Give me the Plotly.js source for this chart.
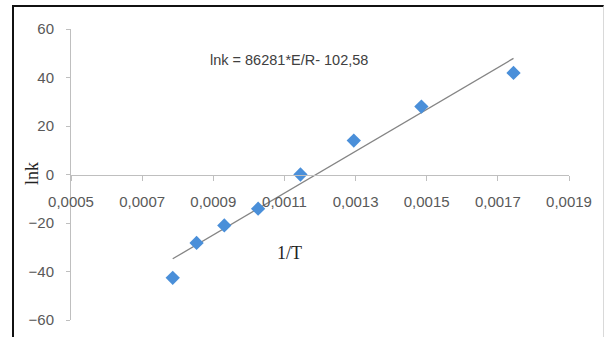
<!DOCTYPE html>
<html>
<head>
<meta charset="utf-8">
<script src="https://cdn.plot.ly/plotly-3.0.1.min.js"></script>
<style>
  html, body { margin: 0; padding: 0; background: #ffffff; }
  #wrap { position: relative; width: 606px; height: 337px; overflow: hidden; }
  #chart { position: absolute; left: 0; top: 0; width: 606px; height: 337px; }
  #frame { position: absolute; left: 12px; top: 5px; width: 589px; height: 340px;
           border-left: 2px solid #111; border-top: 2px solid #111; border-right: 1px solid #d9d9d9;
           pointer-events: none; }
</style>
</head>
<body>
<div id="wrap">
  <div id="chart"></div>
  <div id="frame"></div>
</div>
<script>
// Data
const invT = [0.000786, 0.000853, 0.000931, 0.001026, 0.001145, 0.001295, 0.001485, 0.001744];
const lnk  = [-42.6, -28.2, -21.0, -14.1, 0.0, 14.0, 28.0, 41.9];

// Trend line from the equation printed on the chart
const trendSlope = 86281;
const trendIntercept = -102.58;
const equationText = "lnk = 86281*E/R- 102,58";

const xTicks = [0.0005, 0.0007, 0.0009, 0.0011, 0.0013, 0.0015, 0.0017, 0.0019];
const yTicks = [-60, -40, -20, 0, 20, 40, 60];

const xMin = Math.min(...invT), xMax = Math.max(...invT);
const trendX = [xMin, xMax];
const trendY = trendX.map(v => trendSlope * v + trendIntercept);

const tickFont = { family: 'Liberation Sans, Arial, sans-serif', size: 15, color: '#595959' };
const serifFont = { family: 'Liberation Serif, Times New Roman, serif', size: 18, color: '#222' };

const traces = [
  {
    x: trendX, y: trendY, mode: 'lines', type: 'scatter',
    line: { color: '#858585', width: 1.3 }, hoverinfo: 'skip', showlegend: false
  },
  {
    x: invT, y: lnk, mode: 'markers', type: 'scatter',
    marker: { symbol: 'diamond', size: 11, color: '#4A8FD9' }, showlegend: false
  }
];

const layout = {
  width: 606, height: 337,
  margin: { l: 71, r: 37, t: 29, b: 17 },
  paper_bgcolor: '#ffffff', plot_bgcolor: '#ffffff',
  separators: ', ',
  showlegend: false,
  xaxis: {
    range: [0.0005, 0.0019],
    tickvals: xTicks,
    tickformat: '.4f',
    anchor: 'free', position: 0.5,
    showgrid: false, zeroline: false,
    showline: true, linecolor: '#bfbfbf', linewidth: 1,
    ticks: 'outside', ticklen: 5, tickcolor: '#bfbfbf',
    ticklabelstandoff: 8,
    tickfont: tickFont
  },
  yaxis: {
    range: [-60, 60],
    domain: [0, 1],
    tickvals: yTicks,
    showgrid: false, zeroline: false,
    showline: true, linecolor: '#bfbfbf', linewidth: 1,
    ticks: 'outside', ticklen: 4, tickcolor: '#bfbfbf',
    ticklabelstandoff: 9,
    tickfont: tickFont
  },
  annotations: [
    {
      text: equationText, xref: 'paper', yref: 'paper',
      x: (289.5 - 71) / 498.3, y: (320 - 60) / 291,
      xanchor: 'center', yanchor: 'middle', showarrow: false,
      font: { family: 'Liberation Sans, Arial, sans-serif', size: 14.5, color: '#404040' }
    },
    {
      text: '1/T', xref: 'paper', yref: 'paper',
      x: (290 - 71) / 498.3, y: (320 - 253) / 291,
      xanchor: 'center', yanchor: 'middle', showarrow: false,
      font: serifFont
    },
    {
      text: 'lnk', xref: 'paper', yref: 'paper', textangle: -90,
      x: (32 - 71) / 498.3, y: (320 - 174) / 291,
      xanchor: 'center', yanchor: 'middle', showarrow: false,
      font: serifFont
    }
  ]
};

Plotly.newPlot('chart', traces, layout, { displayModeBar: false, staticPlot: true });
</script>
</body>
</html>
